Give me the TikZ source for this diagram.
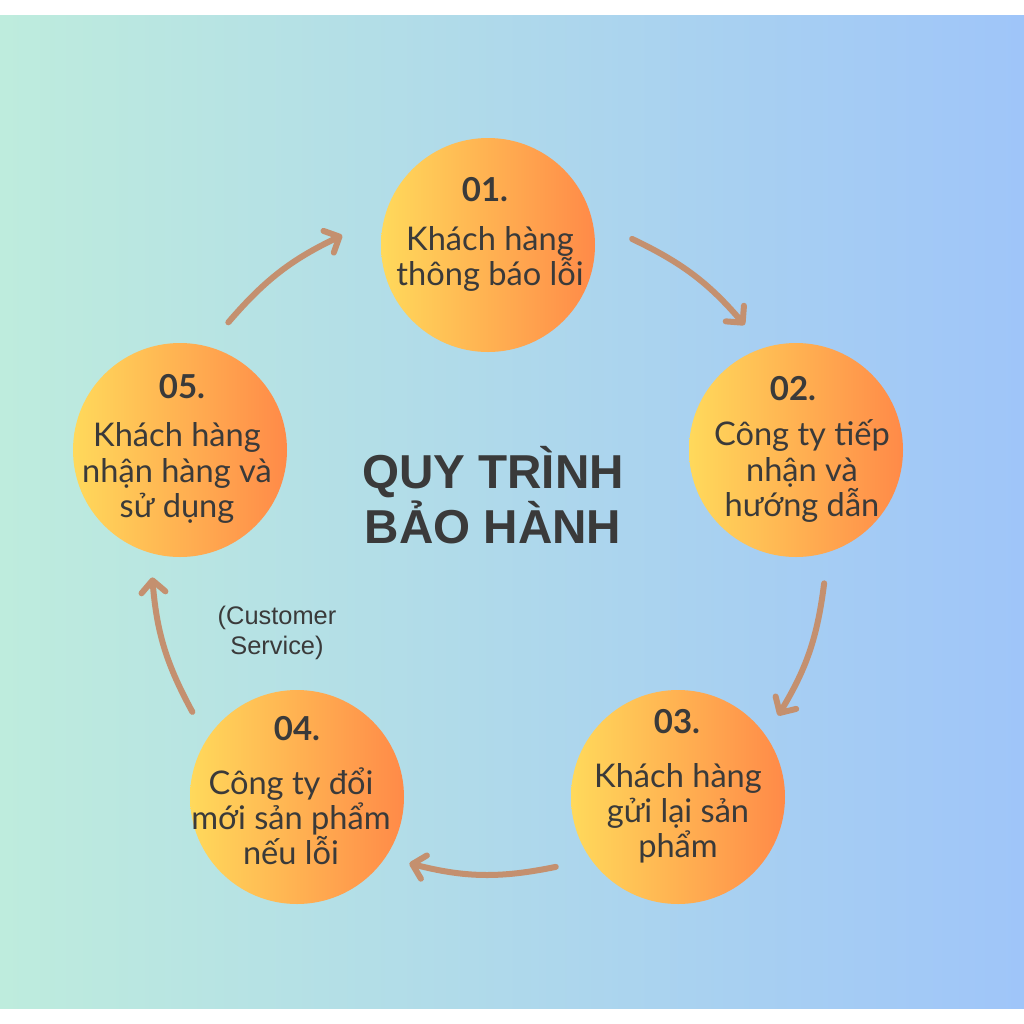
\documentclass[tikz,border=0pt]{standalone}
\usepackage{fontspec}
\setmainfont{Lato}
\newfontfamily\titlefont{Liberation Sans}
\usetikzlibrary{arrows.meta,calc}
\definecolor{txtgray}{HTML}{3A3A3A}
\definecolor{arrowbrown}{HTML}{C4906F}
\definecolor{cyel}{HTML}{FFD95B}
\definecolor{corg}{HTML}{FF8A48}
\definecolor{bgleft}{HTML}{BEECDD}
\definecolor{bgmid}{HTML}{B0DAEA}
\definecolor{bgright}{HTML}{9FC5F9}
\tikzset{
  circ/.style={circle, minimum size=107pt, inner sep=0pt, left color=cyel, right color=corg, draw=none},
  num/.style={font=\fontsize{16.5}{19}\selectfont\bfseries, text=txtgray, inner sep=0pt},
  body/.style={font=\fontsize{16.3}{17.6}\selectfont, text=txtgray, align=center, inner sep=0pt},
  flow/.style={draw=arrowbrown, line width=3pt, line cap=round, bend left=12,
    -{Straight Barb[round,length=6pt,width=12pt]}},
}
\begin{document}
\begin{tikzpicture}[x=0.5pt,y=-0.5pt]
\useasboundingbox[fill=white] (0,0) rectangle (1024,1024);
\fill[left color=bgleft, middle color=bgmid, right color=bgright] (0,15) rectangle (1024,1008);

% circles
\node[circ] (c1) at (488,245) {};
\node[circ] (c2) at (796,450) {};
\node[circ] (c3) at (678,797) {};
\node[circ] (c4) at (297,797) {};
\node[circ] (c5) at (180,450) {};

% texts
\node[num] (n1) at (485,190) {01.};
\node[body] (b1) at (490,259) {Khách hàng\\thông báo lỗi};
\node[num] (n2) at (793,389) {02.};
\node[body] (b2) at (802,471) {Công ty tiếp\\nhận và\\hướng dẫn};
\node[num] (n3) at (677,722) {03.};
\node[body] (b3) at (678,813) {Khách hàng\\gửi lại sản\\phẩm};
\node[num] (n4) at (297,729) {04.};
\node[body] (b4) at (291,816) {Công ty đổi\\mới sản phẩm\\nếu lỗi};
\node[num] (n5) at (182,387) {05.};
\node[body] (b5) at (177,473) {Khách hàng\\nhận hàng và\\sử dụng};

\node[font=\titlefont\bfseries\fontsize{23.8}{27.5}\selectfont, text=txtgray, align=center, inner sep=0pt] (title) at (493,495) {QUY TRÌNH\\BẢO HÀNH};
\node[font=\titlefont\fontsize{12.7}{15}\selectfont, text=txtgray, align=center, inner sep=0pt] (cs) at (277,633) {(Customer\\Service)};

% arrows
\coordinate (C) at (488,548);
\coordinate (s1) at ($(C)+(-65:341)$);
\coordinate (e1) at ($(C)+(-41:340)$);
\coordinate (s2) at ($(C)+(6:338)$);
\coordinate (e2) at ($(C)+(30:335)$);
\coordinate (s3) at ($(C)+(78:326)$);
\coordinate (e3) at ($(C)+(104:325)$);
\coordinate (s4) at ($(C)+(151:338)$);
\coordinate (e4) at ($(C)+(175:337)$);
\coordinate (s5) at ($(C)+(-139:344)$);
\coordinate (e5) at ($(C)+(-115:345)$);
\draw[flow] (s1) to (e1);
\draw[flow] (s2) to (e2);
\draw[flow, bend left=13] (s3) to (e3);
\draw[flow] (s4) to (e4);
\draw[flow] (s5) to (e5);
\end{tikzpicture}
\end{document}
